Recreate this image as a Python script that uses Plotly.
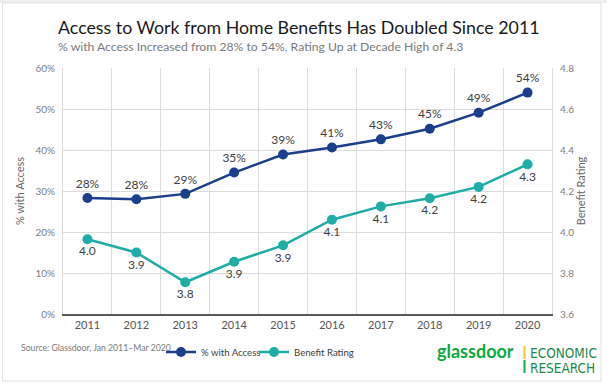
import plotly.graph_objects as go

years = ["2011", "2012", "2013", "2014", "2015", "2016", "2017", "2018", "2019", "2020"]
access_pct = [28.3, 28.0, 29.3, 34.5, 38.9, 40.6, 42.6, 45.2, 49.1, 54.0]
access_labels = ["28%", "28%", "29%", "35%", "39%", "41%", "43%", "45%", "49%", "54%"]
rating = [3.965, 3.90, 3.755, 3.855, 3.935, 4.06, 4.125, 4.165, 4.22, 4.33]
rating_labels = ["4.0", "3.9", "3.8", "3.9", "3.9", "4.1", "4.1", "4.2", "4.2", "4.3"]

BLUE = "#1b3f8b"
TEAL = "#1fada7"
FONT = "Lato"

W, H = 607, 384
L, R, T, B = 63, 552, 68, 314

xpos = list(range(len(years)))


def px(x):
    return (x - L) / (R - L)


def py(y):
    return (B - y) / (B - T)


fig = go.Figure()
fig.add_trace(go.Scatter(
    x=xpos, y=access_pct, name="% with Access", mode="lines+markers+text",
    line=dict(color=BLUE, width=2.5), marker=dict(color=BLUE, size=10),
    text=access_labels, textposition="top center",
    textfont=dict(family=FONT, size=12, color="#404040"),
    cliponaxis=False, legend="legend",
))
fig.add_trace(go.Scatter(
    x=xpos, y=rating, name="Benefit Rating", mode="lines+markers+text",
    line=dict(color=TEAL, width=2.5), marker=dict(color=TEAL, size=10),
    text=rating_labels, textposition="bottom center",
    textfont=dict(family=FONT, size=12, color="#404040"),
    yaxis="y2", cliponaxis=False, legend="legend2",
))

annotations = [
    dict(text="Access to Work from Home Benefits Has Doubled Since 2011",
         x=px(56), y=py(27), xanchor="left", yanchor="middle",
         font=dict(family=FONT, size=17.8, color="#1a1a1a")),
    dict(text="% with Access Increased from 28% to 54%, Rating Up at Decade High of 4.3",
         x=px(56), y=py(46), xanchor="left", yanchor="middle",
         font=dict(family=FONT, size=12.2, color="#7a7a7a")),
    dict(text="Source: Glassdoor, Jan 2011–Mar 2020",
         x=px(19), y=py(347), xanchor="left", yanchor="middle",
         font=dict(family=FONT, size=8.7, color="#7a7a7a")),
    dict(text="<b>glassdoor</b>",
         x=px(435), y=py(351), xanchor="left", yanchor="middle",
         font=dict(family=FONT, size=18, color="#0caa41")),
    dict(text="ECONOMIC",
         x=px(528), y=py(353), xanchor="left", yanchor="middle",
         font=dict(family="DejaVu Sans Condensed", size=13.5, color="#1e8a4a")),
    dict(text="RESEARCH",
         x=px(528), y=py(368), xanchor="left", yanchor="middle",
         font=dict(family="DejaVu Sans Condensed", size=13.5, color="#1e8a4a")),
]
for a in annotations:
    a.update(xref="paper", yref="paper", showarrow=False)

shapes = [
    dict(type="line", xref="paper", yref="paper", x0=px(524.5), x1=px(524.5),
         y0=py(346), y1=py(359), line=dict(color="#f2c230", width=2)),
    dict(type="line", xref="paper", yref="paper", x0=px(524.5), x1=px(524.5),
         y0=py(360), y1=py(373), line=dict(color="#0caa41", width=2)),
    dict(type="rect", xref="paper", yref="paper", x0=px(0), x1=px(607),
         y0=py(0), y1=py(3), fillcolor="#eeeeee", line=dict(width=0)),
    dict(type="rect", xref="paper", yref="paper", x0=px(2.5), x1=px(601),
         y0=py(3), y1=py(381), line=dict(color="#e3e3e3", width=1)),
]

legend_common = dict(orientation="h", yanchor="middle", y=py(352), xanchor="left",
                     font=dict(family=FONT, size=9.6, color="#404040"),
                     bgcolor="rgba(0,0,0,0)", itemwidth=30)

fig.update_layout(
    width=W, height=H,
    margin=dict(l=L, r=W - R, t=T, b=H - B),
    paper_bgcolor="white", plot_bgcolor="white",
    font=dict(family=FONT, color="#7a7a7a"),
    showlegend=True,
    legend=dict(x=px(161), **legend_common),
    legend2=dict(x=px(254), **legend_common),
    xaxis=dict(tickvals=xpos, ticktext=years, range=[-0.5, len(years) - 0.5],
               showgrid=False, ticks="", showline=True, linecolor="#595959",
               linewidth=1.5, zeroline=False,
               tickfont=dict(family=FONT, size=11, color="#555555"),
               minor=dict(tick0=0.5, dtick=1, showgrid=True, gridcolor="#dcdcdc",
                          gridwidth=1, ticks="")),
    yaxis=dict(range=[0, 60], dtick=10, ticksuffix="%", showgrid=True,
               gridcolor="#dcdcdc", gridwidth=1, zeroline=False, showline=True,
               linecolor="#dcdcdc", ticklabelstandoff=5,
               tickfont=dict(family=FONT, size=10, color="#808080"),
               title=dict(text="% with Access", standoff=8,
                          font=dict(family=FONT, size=11, color="#666666"))),
    yaxis2=dict(range=[3.6, 4.8], dtick=0.2, tickformat=".1f", overlaying="y",
                side="right", showgrid=False, zeroline=False, showline=True,
                linecolor="#dcdcdc", ticklabelstandoff=5,
                tickfont=dict(family=FONT, size=10, color="#808080"),
                title=dict(text="Benefit Rating", standoff=4,
                           font=dict(family=FONT, size=11, color="#666666"))),
    annotations=annotations,
    shapes=shapes,
)

fig.write_html("out.html", config={"displayModeBar": False},
               post_script="document.body.style.margin='0';document.body.style.overflow='hidden';")
